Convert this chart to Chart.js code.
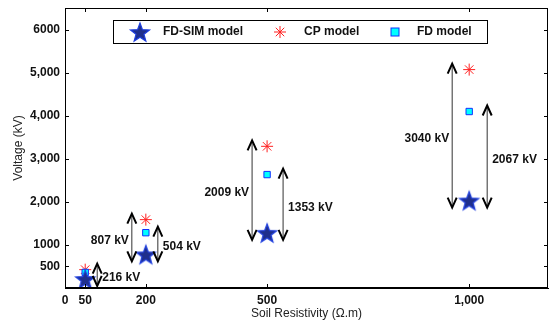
<!DOCTYPE html>
<html>
<head>
  <script src="https://cdn.jsdelivr.net/npm/chart.js"></script>
  <style>
    body { margin: 0; background: #fff; overflow: hidden; }
    #wrap { width: 550px; height: 325px; }
    canvas { display: block; }
  </style>
</head>
<body>
  <div id="wrap"><canvas id="chart" width="550" height="325"></canvas></div>
  <script>
    // soil resistivity (ohm.m)
    const resistivity = [50, 200, 500, 1000];
    // voltages in kV
    const fdSim = [210, 780, 1280, 2030];
    const cpModel = [426, 1587, 3289, 5070];
    const fdModel = [362, 1284, 2633, 4097];

    const xTicks = [0, 50, 200, 500, 1000];
    const xTickLabels = ['0', '50', '200', '500', '1,000'];
    const yTicks = [500, 1000, 2000, 3000, 4000, 5000, 6000];
    const yTickLabels = ['500', '1000', '2,000', '3,000', '4,000', '5,000', '6000'];

    const gapLabels = ['216 kV', '807 kV', '504 kV', '2009 kV', '1353 kV', '3040 kV', '2067 kV'];

    // star image for FD-SIM
    function makeStar(r) {
      const c = document.createElement('canvas');
      const s = r * 2 + 4;
      c.width = s; c.height = s;
      const g = c.getContext('2d');
      g.beginPath();
      for (let k = 0; k < 10; k++) {
        const rad = k % 2 === 0 ? r : r * 0.42;
        const a = -Math.PI / 2 + k * Math.PI / 5;
        const px = s / 2 + rad * Math.cos(a), py = s / 2 + 1 + rad * Math.sin(a);
        k === 0 ? g.moveTo(px, py) : g.lineTo(px, py);
      }
      g.closePath();
      g.fillStyle = '#1f2f8c';
      g.fill();
      g.lineWidth = 1.2;
      g.strokeStyle = '#2040e0';
      g.stroke();
      return c;
    }
    const starImg = makeStar(10);
    const legendStar = makeStar(10);

    const pts = ys => resistivity.map((x, i) => ({ x: x, y: ys[i] }));

    // arrows: index of point, target series, pixel offset, label side
    const arrows = [
      { i: 0, to: cpModel, dx: 12, side: 'right', label: gapLabels[0] },
      { i: 1, to: cpModel, dx: -14, side: 'left', label: gapLabels[1] },
      { i: 1, to: fdModel, dx: 12, side: 'right', label: gapLabels[2] },
      { i: 2, to: cpModel, dx: -15, side: 'left', label: gapLabels[3] },
      { i: 2, to: fdModel, dx: 16, side: 'right', label: gapLabels[4] },
      { i: 3, to: cpModel, dx: -17, side: 'left', label: gapLabels[5] },
      { i: 3, to: fdModel, dx: 18, side: 'right', label: gapLabels[6] }
    ];

    function head(ctx, x, y, dir) {
      ctx.beginPath();
      ctx.moveTo(x - 4.5, y + dir * 10);
      ctx.lineTo(x, y);
      ctx.lineTo(x + 4.5, y + dir * 10);
      ctx.stroke();
    }

    // no extra label padding around the plot box
    const noPad = s => {
      s.paddingTop = 0; s.paddingBottom = 0; s.paddingLeft = 0; s.paddingRight = 0;
    };

    const extras = {
      id: 'extras',
      afterDatasetsDraw(chart) {
        const ctx = chart.ctx;
        const a = chart.chartArea;
        const xs = chart.scales.x, ys = chart.scales.y;
        ctx.save();
        // frame
        ctx.strokeStyle = '#000';
        ctx.lineWidth = 1;
        ctx.strokeRect(a.left + 0.5, a.top + 0.5, a.right - a.left - 1, a.bottom - a.top - 1);
        // inward ticks
        ctx.beginPath();
        yTicks.forEach(v => {
          const py = Math.round(ys.getPixelForValue(v)) + 0.5;
          ctx.moveTo(a.left, py); ctx.lineTo(a.left + 4, py);
          ctx.moveTo(a.right, py); ctx.lineTo(a.right - 4, py);
        });
        xTicks.forEach(v => {
          const px = Math.round(xs.getPixelForValue(v)) + 0.5;
          ctx.moveTo(px, a.bottom); ctx.lineTo(px, a.bottom - 4);
          ctx.moveTo(px, a.top); ctx.lineTo(px, a.top + 4);
        });
        ctx.stroke();

        // arrows
        ctx.font = 'bold 12px Arial, "Liberation Sans"';
        ctx.textBaseline = 'middle';
        arrows.forEach(ar => {
          const px = xs.getPixelForValue(resistivity[ar.i]) + ar.dx;
          const yBot = ys.getPixelForValue(fdSim[ar.i]) + 7;
          const yTop = ys.getPixelForValue(ar.to[ar.i]) - 6;
          ctx.strokeStyle = '#333';
          ctx.lineWidth = 1;
          ctx.beginPath();
          ctx.moveTo(px, yTop); ctx.lineTo(px, yBot);
          ctx.stroke();
          ctx.strokeStyle = '#000';
          ctx.lineWidth = 2;
          head(ctx, px, yTop, 1);
          head(ctx, px, yBot, -1);
          ctx.fillStyle = '#111';
          const my = (yTop + yBot) / 2 + 3;
          if (ar.side === 'left') {
            ctx.textAlign = 'right';
            ctx.fillText(ar.label, px - 3, my);
          } else {
            ctx.textAlign = 'left';
            ctx.fillText(ar.label, px + 5, my);
          }
        });

        // legend
        const lx = 113, ly = 20, lw = 374, lh = 23;
        ctx.fillStyle = '#fff';
        ctx.fillRect(lx, ly, lw, lh);
        ctx.strokeStyle = '#000';
        ctx.lineWidth = 1;
        ctx.strokeRect(lx + 0.5, ly + 0.5, lw, lh);
        const cy = ly + lh / 2 + 0.5;
        ctx.drawImage(legendStar, 140 - legendStar.width / 2, cy - legendStar.height / 2);
        ctx.strokeStyle = '#ff2020';
        ctx.fillStyle = '#ff2020';
        Chart.helpers.drawPoint(ctx, { pointStyle: 'star', radius: 6, borderWidth: 1, rotation: 0 }, 280, cy);
        ctx.fillStyle = '#00ffff';
        ctx.strokeStyle = '#1030ff';
        ctx.lineWidth = 1;
        ctx.fillRect(391, cy - 4, 8, 8);
        ctx.strokeRect(391, cy - 4, 8, 8);
        ctx.fillStyle = '#111';
        ctx.textAlign = 'left';
        ctx.font = 'bold 12px Arial, "Liberation Sans"';
        ctx.fillText('FD-SIM model', 163, cy);
        ctx.fillText('CP model', 304, cy);
        ctx.fillText('FD model', 417, cy);
        ctx.restore();
      }
    };

    new Chart(document.getElementById('chart'), {
      type: 'scatter',
      data: {
        datasets: [
          {
            label: 'FD-SIM model',
            data: pts(fdSim),
            pointStyle: starImg,
            order: 1
          },
          {
            label: 'CP model',
            data: pts(cpModel),
            pointStyle: 'star',
            pointRadius: 6,
            borderColor: '#ff2020',
            backgroundColor: '#ff2020',
            borderWidth: 1,
            order: 3
          },
          {
            label: 'FD model',
            data: pts(fdModel),
            pointStyle: 'rect',
            pointRadius: 4.5,
            backgroundColor: '#00ffff',
            borderColor: '#1030ff',
            borderWidth: 1,
            order: 2
          }
        ]
      },
      options: {
        responsive: false,
        animation: false,
        layout: { autoPadding: false, padding: { top: 8, right: 2, left: 0, bottom: 4 } },
        plugins: { legend: { display: false }, tooltip: { enabled: false } },
        scales: {
          x: {
            type: 'linear',
            min: 0,
            max: 1195,
            afterBuildTicks: s => { s.ticks = xTicks.map(v => ({ value: v })); },
            afterFit: s => { s.height = 33; noPad(s); },
            grid: { display: false, drawTicks: false },
            border: { display: true, color: '#000' },
            ticks: {
              autoSkip: false,
              maxRotation: 0,
              padding: 5,
              color: '#111',
              font: { family: 'Arial, "Liberation Sans"', size: 12, weight: 'bold' },
              callback: v => xTickLabels[xTicks.indexOf(v)]
            },
            title: {
              display: true,
              text: 'Soil Resistivity (\u03A9.m)',
              color: '#222',
              padding: { top: 0, bottom: 0 },
              font: { family: 'Arial, "Liberation Sans"', size: 12 }
            }
          },
          y: {
            min: 0,
            max: 6500,
            afterBuildTicks: s => { s.ticks = yTicks.map(v => ({ value: v })); },
            afterFit: s => { s.width = 65; noPad(s); },
            grid: { display: false, drawTicks: false },
            border: { display: true, color: '#000' },
            ticks: {
              autoSkip: false,
              padding: 5,
              color: '#111',
              font: { family: 'Arial, "Liberation Sans"', size: 12, weight: 'bold' },
              callback: v => yTickLabels[yTicks.indexOf(v)]
            },
            title: {
              display: true,
              text: 'Voltage (kV)',
              color: '#222',
              padding: { top: 11, bottom: 2 },
              font: { family: 'Arial, "Liberation Sans"', size: 12 }
            }
          }
        }
      },
      plugins: [extras]
    });
  </script>
</body>
</html>
